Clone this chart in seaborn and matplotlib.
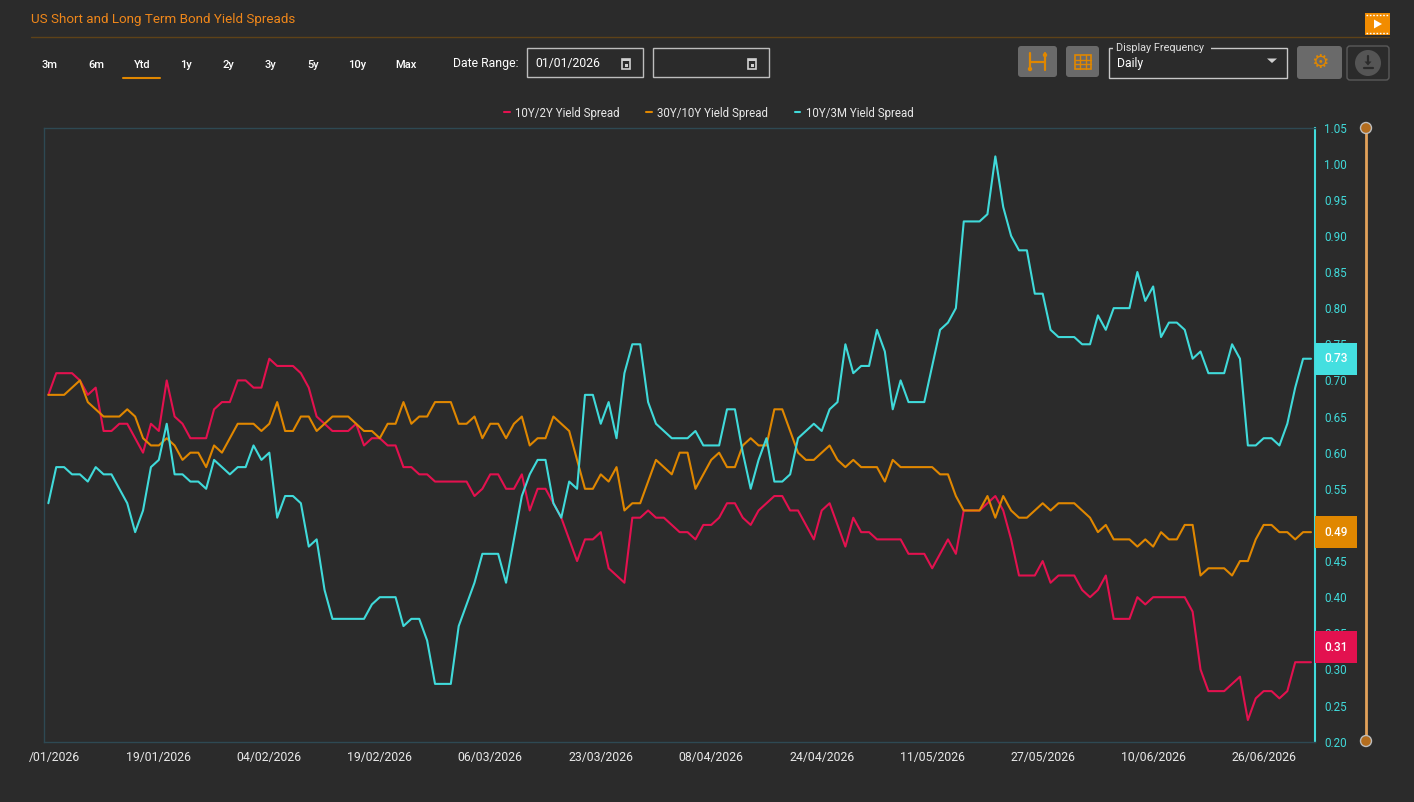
import numpy as np
import pandas as pd
import matplotlib.pyplot as plt
import seaborn as sns
from matplotlib.patches import Rectangle, FancyBboxPatch, Circle, Polygon
from matplotlib.transforms import ScaledTranslation, blended_transform_factory

BG = '#2b2b2b'
RED = '#e3114f'
ORANGE = '#e08700'
CYAN = '#40dada'
FRAME = '#2e4953'
TXT = '#e8e8e8'

# x tick labels (one label every 14 daily points)
date_labels = ['/01/2026', '19/01/2026', '04/02/2026', '19/02/2026', '06/03/2026', '23/03/2026',
               '08/04/2026', '24/04/2026', '11/05/2026', '27/05/2026', '10/06/2026', '26/06/2026']
label_step = 14

series_names = ['10Y/2Y Yield Spread', '30Y/10Y Yield Spread', '10Y/3M Yield Spread']

spread_10y2y = [
    0.68, 0.71, 0.71, 0.71, 0.70, 0.68, 0.69, 0.63, 0.63, 0.64, 0.64, 0.62, 0.60, 0.64, 0.63, 0.70,
    0.65, 0.64, 0.62, 0.62, 0.62, 0.66, 0.67, 0.67, 0.70, 0.70, 0.69, 0.69,
    0.73, 0.72, 0.72, 0.72, 0.71, 0.69, 0.65, 0.64, 0.63, 0.63, 0.63, 0.64, 0.61, 0.62, 0.62, 0.61,
    0.61, 0.58, 0.58, 0.57, 0.57, 0.56,
    0.56, 0.56, 0.56, 0.56, 0.54, 0.55, 0.57, 0.57, 0.55, 0.55, 0.57, 0.52, 0.55, 0.55, 0.53, 0.51,
    0.48, 0.45, 0.48, 0.48, 0.49, 0.44, 0.43,
    0.42, 0.51, 0.51, 0.52, 0.51, 0.51, 0.50, 0.49, 0.49, 0.48, 0.50, 0.50, 0.51, 0.53, 0.53, 0.51,
    0.50, 0.52, 0.53, 0.54, 0.54, 0.52, 0.52,
    0.50, 0.48, 0.52, 0.53, 0.50, 0.47, 0.51, 0.49, 0.49, 0.48, 0.48, 0.48, 0.48, 0.46, 0.46, 0.46,
    0.44, 0.46, 0.48, 0.46, 0.52, 0.52,
    0.52, 0.53, 0.54, 0.52, 0.48, 0.43, 0.43, 0.43, 0.45, 0.42, 0.43, 0.43, 0.43, 0.41, 0.40, 0.41,
    0.43, 0.37, 0.37, 0.37, 0.40, 0.39, 0.40,
    0.40, 0.40, 0.40, 0.40, 0.38, 0.30, 0.27, 0.27, 0.27, 0.28, 0.29, 0.23, 0.26, 0.27, 0.27, 0.26,
    0.27, 0.31, 0.31, 0.31,
]

spread_30y10y = [
    0.68, 0.68, 0.68, 0.69, 0.70, 0.67, 0.66, 0.65, 0.65, 0.65, 0.66, 0.65, 0.62, 0.61, 0.61, 0.62,
    0.61, 0.59, 0.60, 0.60, 0.58, 0.61, 0.60, 0.62, 0.64, 0.64, 0.64, 0.63,
    0.64, 0.67, 0.63, 0.63, 0.65, 0.65, 0.63, 0.64, 0.65, 0.65, 0.65, 0.64, 0.63, 0.63, 0.62, 0.64,
    0.64, 0.67, 0.64, 0.65, 0.65, 0.67,
    0.67, 0.67, 0.64, 0.64, 0.65, 0.62, 0.64, 0.64, 0.62, 0.64, 0.65, 0.61, 0.62, 0.62, 0.65, 0.64,
    0.63, 0.59, 0.55, 0.55, 0.57, 0.56, 0.58,
    0.52, 0.53, 0.53, 0.56, 0.59, 0.58, 0.57, 0.60, 0.60, 0.55, 0.57, 0.59, 0.60, 0.58, 0.58, 0.61,
    0.62, 0.61, 0.61, 0.66, 0.66, 0.63, 0.60,
    0.59, 0.59, 0.60, 0.61, 0.59, 0.58, 0.59, 0.58, 0.58, 0.58, 0.56, 0.59, 0.58, 0.58, 0.58, 0.58,
    0.58, 0.57, 0.57, 0.54, 0.52, 0.52,
    0.52, 0.54, 0.51, 0.54, 0.52, 0.51, 0.51, 0.52, 0.53, 0.52, 0.53, 0.53, 0.53, 0.52, 0.51, 0.49,
    0.50, 0.48, 0.48, 0.48, 0.47, 0.48, 0.47,
    0.49, 0.48, 0.48, 0.50, 0.50, 0.43, 0.44, 0.44, 0.44, 0.43, 0.45, 0.45, 0.48, 0.50, 0.50, 0.49,
    0.49, 0.48, 0.49, 0.49,
]

spread_10y3m = [
    0.53, 0.58, 0.58, 0.57, 0.57, 0.56, 0.58, 0.57, 0.57, 0.55, 0.53, 0.49, 0.52, 0.58, 0.59, 0.64,
    0.57, 0.57, 0.56, 0.56, 0.55, 0.59, 0.58, 0.57, 0.58, 0.58, 0.61, 0.59,
    0.60, 0.51, 0.54, 0.54, 0.53, 0.47, 0.48, 0.41, 0.37, 0.37, 0.37, 0.37, 0.37, 0.39, 0.40, 0.40,
    0.40, 0.36, 0.37, 0.37, 0.34, 0.28,
    0.28, 0.28, 0.36, 0.39, 0.42, 0.46, 0.46, 0.46, 0.42, 0.48, 0.54, 0.57, 0.59, 0.59, 0.53, 0.51,
    0.56, 0.55, 0.68, 0.68, 0.64, 0.67, 0.62,
    0.71, 0.75, 0.75, 0.67, 0.64, 0.63, 0.62, 0.62, 0.62, 0.63, 0.61, 0.61, 0.61, 0.66, 0.66, 0.60,
    0.55, 0.59, 0.62, 0.56, 0.56, 0.57, 0.62,
    0.63, 0.64, 0.63, 0.66, 0.67, 0.75, 0.71, 0.72, 0.72, 0.77, 0.74, 0.66, 0.70, 0.67, 0.67, 0.67,
    0.72, 0.77, 0.78, 0.80, 0.92, 0.92,
    0.92, 0.93, 1.01, 0.94, 0.90, 0.88, 0.88, 0.82, 0.82, 0.77, 0.76, 0.76, 0.76, 0.75, 0.75, 0.79,
    0.77, 0.80, 0.80, 0.80, 0.85, 0.81, 0.83,
    0.76, 0.78, 0.78, 0.77, 0.73, 0.74, 0.71, 0.71, 0.71, 0.75, 0.73, 0.61, 0.61, 0.62, 0.62, 0.61,
    0.64, 0.69, 0.73, 0.73,
]

yticks = [0.20, 0.25, 0.30, 0.35, 0.40, 0.45, 0.50, 0.55, 0.60, 0.65, 0.70, 0.75, 0.80, 0.85,
          0.90, 0.95, 1.00, 1.05]

range_labels = ['3m', '6m', 'Ytd', '1y', '2y', '3y', '5y', '10y', 'Max']

# long format table for seaborn
wide = pd.DataFrame({
    series_names[0]: spread_10y2y,
    series_names[1]: spread_30y10y,
    series_names[2]: spread_10y3m,
})
wide['idx'] = np.arange(len(wide))
df = wide.melt(id_vars='idx', var_name='series', value_name='spread')
palette = {series_names[0]: RED, series_names[1]: ORANGE, series_names[2]: CYAN}

sns.set_theme(style='dark')
plt.rcParams['font.family'] = ['Roboto', 'DejaVu Sans']
plt.rcParams['axes.facecolor'] = BG
plt.rcParams['figure.facecolor'] = BG

W, H = 1414, 802
fig = plt.figure(figsize=(W / 100, H / 100), dpi=100, facecolor=BG)

# overlay in pixel coordinates for the page controls
ui = fig.add_axes([0, 0, 1, 1])
ui.set_xlim(0, W)
ui.set_ylim(H, 0)
ui.axis('off')
ui.patch.set_alpha(0)

ax_l, ax_r, ax_t, ax_b = 44, 1314.7, 127.5, 741.7
ax = fig.add_axes([ax_l / W, 1 - ax_b / H, (ax_r - ax_l) / W, (ax_b - ax_t) / H])
ax.set_facecolor(BG)

sns.lineplot(data=df, x='idx', y='spread', hue='series', hue_order=series_names,
             palette=palette, linewidth=1.5, ax=ax)

n = len(spread_10y2y)
ax.set_xlim(-0.55, n - 1 + 0.47)
ax.set_ylim(0.20, 1.05)
ax.set_xlabel('')
ax.set_ylabel('')
ax.grid(False)

ax.set_xticks(np.arange(len(date_labels)) * label_step, date_labels)
ax.set_yticks(yticks, [f'{v:.2f}' for v in yticks])
ax.yaxis.tick_right()
ax.tick_params(axis='x', colors=TXT, length=0, pad=7, labelsize=8.8)
ax.tick_params(axis='y', colors=CYAN, length=0, pad=7, labelsize=8.4)
first = ax.get_xticklabels()[0]
first.set_transform(first.get_transform() + ScaledTranslation(6 / 100, 0, fig.dpi_scale_trans))

for side in ['left', 'top', 'bottom']:
    ax.spines[side].set_color(FRAME)
    ax.spines[side].set_linewidth(1)
ax.spines['right'].set_color(CYAN)
ax.spines['right'].set_linewidth(1.5)

handles, labels = ax.get_legend_handles_labels()
ax.legend(handles, labels, loc='center', bbox_to_anchor=(709 / W, 1 - 113 / H),
          bbox_transform=fig.transFigure, ncol=3, frameon=False, handlelength=0.45,
          handletextpad=0.5, columnspacing=2.3, fontsize=8.3, labelcolor=TXT)

# last value badges on the right axis (red one sits just above its value)
trans = blended_transform_factory(ax.transAxes, ax.transData)
px_per_unit = (ax_b - ax_t) / (1.05 - 0.20)
bw = 42 / (ax_r - ax_l)
bh = 32 / px_per_unit
for vals, col, shift_px in [(spread_10y3m, '#44dfe0', 0), (spread_30y10y, ORANGE, 0),
                            (spread_10y2y, RED, 15)]:
    v = vals[-1]
    c = v + shift_px / px_per_unit
    ax.add_patch(Rectangle((1.0, c - bh / 2), bw, bh, transform=trans, clip_on=False,
                           fc=col, ec='none', zorder=10))
    ax.text(1.0 + bw / 2, c, f'{v:.2f}', transform=trans, ha='center', va='center',
            color='white', fontsize=8.6, fontweight='medium', zorder=11, clip_on=False)

# ---- header ----
ui.text(31, 20, 'US Short and Long Term Bond Yield Spreads', color='#f0871a',
        fontsize=9.6, ha='left', va='center')
ui.plot([31, 1389], [37, 37], color='#5e4218', lw=1)

range_x = [50, 96, 142, 186, 228, 270, 313, 357, 406]
for lab, x in zip(range_labels, range_x):
    ui.text(x, 64.5, lab, color='white', fontsize=8, ha='center', va='center', fontweight='medium')
ui.plot([123, 160], [78, 78], color=ORANGE, lw=1.5)

ui.text(453, 63.5, 'Date Range:', color='white', fontsize=8.8, ha='left', va='center')
for bx in [527, 653]:
    ui.add_patch(Rectangle((bx, 48), 116, 29, fill=False, ec='#bdbdbd', lw=1))
    cx = bx + 99
    ui.add_patch(Rectangle((cx - 4, 58.5), 8, 10.5, fill=False, ec='#d0d0d0', lw=1.2))
    ui.add_patch(Rectangle((cx - 4, 58.5), 8, 2.5, fc='#d0d0d0', ec='none'))
    ui.add_patch(Rectangle((cx - 1.5, 63.5), 3, 3, fc='#d0d0d0', ec='none'))
ui.text(535, 63.5, '01/01/2026', color='white', fontsize=8.8, ha='left', va='center')

# tool buttons
ui.add_patch(FancyBboxPatch((1018, 46), 39, 31, boxstyle='round,pad=0,rounding_size=3',
                            fc='#6a6a6a', ec='none'))
ui.plot([1030, 1030], [53, 70], color=ORANGE, lw=1.6)
ui.plot([1045, 1045], [53, 70], color=ORANGE, lw=1.6)
ui.plot([1030, 1045], [62, 62], color=ORANGE, lw=1.6)
ui.add_patch(Circle((1030, 69), 2.2, fc=ORANGE, ec='none'))
ui.add_patch(Circle((1045, 55), 2.2, fc=ORANGE, ec='none'))

ui.add_patch(FancyBboxPatch((1066, 46), 33, 31, boxstyle='round,pad=0,rounding_size=3',
                            fc='#6a6a6a', ec='none'))
ui.add_patch(Rectangle((1075, 55), 16, 14, fill=False, ec=ORANGE, lw=1.2))
for gx in [1080.3, 1085.7]:
    ui.plot([gx, gx], [55, 69], color=ORANGE, lw=1)
for gy in [59.7, 64.3]:
    ui.plot([1075, 1091], [gy, gy], color=ORANGE, lw=1)

ui.add_patch(Rectangle((1109, 48), 178, 30, fill=False, ec='#c8c8c8', lw=1))
ui.add_patch(Rectangle((1113, 45), 98, 6, fc=BG, ec='none'))
ui.text(1116, 48, 'Display Frequency', color='#e0e0e0', fontsize=7.8, ha='left', va='center')
ui.text(1117, 64, 'Daily', color='white', fontsize=8.8, ha='left', va='center')
ui.add_patch(Polygon([(1267, 58.5), (1277, 58.5), (1272, 63)], fc='#d0d0d0', ec='none'))

ui.add_patch(FancyBboxPatch((1297, 46), 45, 33, boxstyle='round,pad=0,rounding_size=3',
                            fc='#6a6a6a', ec='none'))
ui.text(1320, 62, '\u2699', family='DejaVu Sans', color=ORANGE, fontsize=14,
        ha='center', va='center')

ui.add_patch(FancyBboxPatch((1347, 46), 42, 34, boxstyle='round,pad=0,rounding_size=3',
                            fc=BG, ec='#5a5a5a', lw=1))
ui.add_patch(Circle((1368, 63), 13, fc='#555555', ec='none'))
ui.plot([1368, 1368], [56, 63], color='#2b2b2b', lw=1.6)
ui.add_patch(Polygon([(1364.5, 61.5), (1371.5, 61.5), (1368, 65.5)], fc='#2b2b2b', ec='none'))
ui.plot([1363.5, 1372.5], [68, 68], color='#2b2b2b', lw=1.6)

ui.add_patch(Rectangle((1365, 13), 25, 22, fc='#f28c00', ec='none'))
ui.plot([1366, 1389], [15, 15], color='white', lw=1, ls=(0, (1.2, 1.2)))
ui.plot([1366, 1389], [33, 33], color='white', lw=1, ls=(0, (1.2, 1.2)))
ui.add_patch(Polygon([(1374, 19.5), (1374, 28.5), (1382, 24)], fc='white', ec='none'))

# vertical navigator on the right
ui.plot([1366, 1366], [128, 741], color='#e3a15a', lw=2, solid_capstyle='butt')
for cy in [128, 741]:
    ui.add_patch(Circle((1366, cy), 5.5, fc='#b36d1f', ec='#bdbdbd', lw=1, zorder=5))

fig.savefig('out.png', dpi=100, facecolor=BG)
